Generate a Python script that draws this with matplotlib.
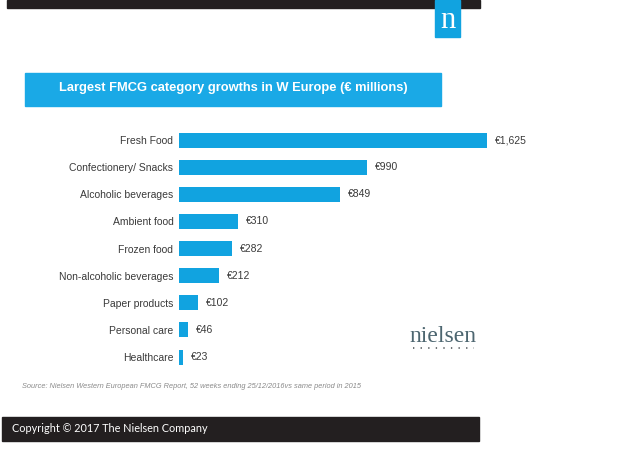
import matplotlib.pyplot as plt
from matplotlib.patches import Rectangle
from matplotlib.lines import Line2D

# data (€ millions)
categories = ['Fresh Food', 'Confectionery/ Snacks', 'Alcoholic beverages',
              'Ambient food', 'Frozen food', 'Non-alcoholic beverages',
              'Paper products', 'Personal care', 'Healthcare']
growth = [1625, 990, 849, 310, 282, 212, 102, 46, 23]

title = 'Largest FMCG category growths in W Europe (€ millions)'
source = ('Source: Nielsen Western European FMCG Report, 52 weeks ending '
          '25/12/2016vs same period in 2015')
copyright_txt = 'Copyright © 2017 The Nielsen Company'

blue = '#11a3e0'
dark = '#231f20'
W, H = 617, 462

fig = plt.figure(figsize=(W / 100, H / 100), dpi=100)
fig.patch.set_facecolor('white')


def box(x, y, w, h, color):
    # pixel box measured from top-left corner
    fig.patches.append(Rectangle((x / W, 1 - (y + h) / H), w / W, h / H,
                                 transform=fig.transFigure, color=color,
                                 zorder=0))


# top dark band + nielsen "n" tile
box(7, 0, 473, 8, dark)
box(435, 0, 25, 37, blue)
fig.text(447.5 / W, 1 - 20 / H, 'n', color='white', fontsize=22,
         family='Liberation Serif', ha='center', va='center')

# title band
box(25, 73, 416, 33, '#1aa9e6')
fig.text(233 / W, 1 - 88 / H, title, color='white', fontsize=9.3,
         fontweight='bold', family='Liberation Sans', ha='center',
         va='center')

# bar chart
ax = fig.add_axes([179 / W, 1 - 370.6 / H, 341 / W, 244 / H])
ypos = list(range(len(categories)))
ax.barh(ypos, growth, height=0.55, color=blue)
ax.set_xlim(0, 1800)
ax.set_ylim(len(categories) - 0.5, -0.5)
for y, v in zip(ypos, growth):
    ax.text(v + 42, y, '€{:,}'.format(v), va='center', ha='left',
            fontsize=7.5, color='#3a3a3a', family='Liberation Sans')
ax.set_yticks(ypos)
ax.set_yticklabels(categories, fontsize=7.5, color='#3a3a3a',
                   family='Liberation Sans')
ax.tick_params(axis='y', length=0, pad=4)
ax.set_xticks([])
for s in ax.spines.values():
    s.set_visible(False)
ax.patch.set_alpha(0)

# nielsen word mark
fig.text(443 / W, 1 - 336 / H, 'nielsen', color='#4d6670', fontsize=17,
         family='Liberation Serif', ha='center', va='center')
fig.lines.append(Line2D([413 / W, 474 / W], [1 - 348 / H, 1 - 348 / H],
                        transform=fig.transFigure, color='#555a5e',
                        linestyle=(0, (0.8, 3.75)), linewidth=1.2))

# source note
fig.text(22 / W, 1 - 387 / H, source, color='#8a8a8a', fontsize=5.3,
         style='italic', family='Liberation Sans', ha='left', va='center')

# bottom copyright band
box(2, 417, 477, 24, dark)
fig.text(12 / W, 1 - 429 / H, copyright_txt, color='white', fontsize=7.8,
         family='Lato', ha='left', va='center')

fig.savefig('out.png', dpi=100)
